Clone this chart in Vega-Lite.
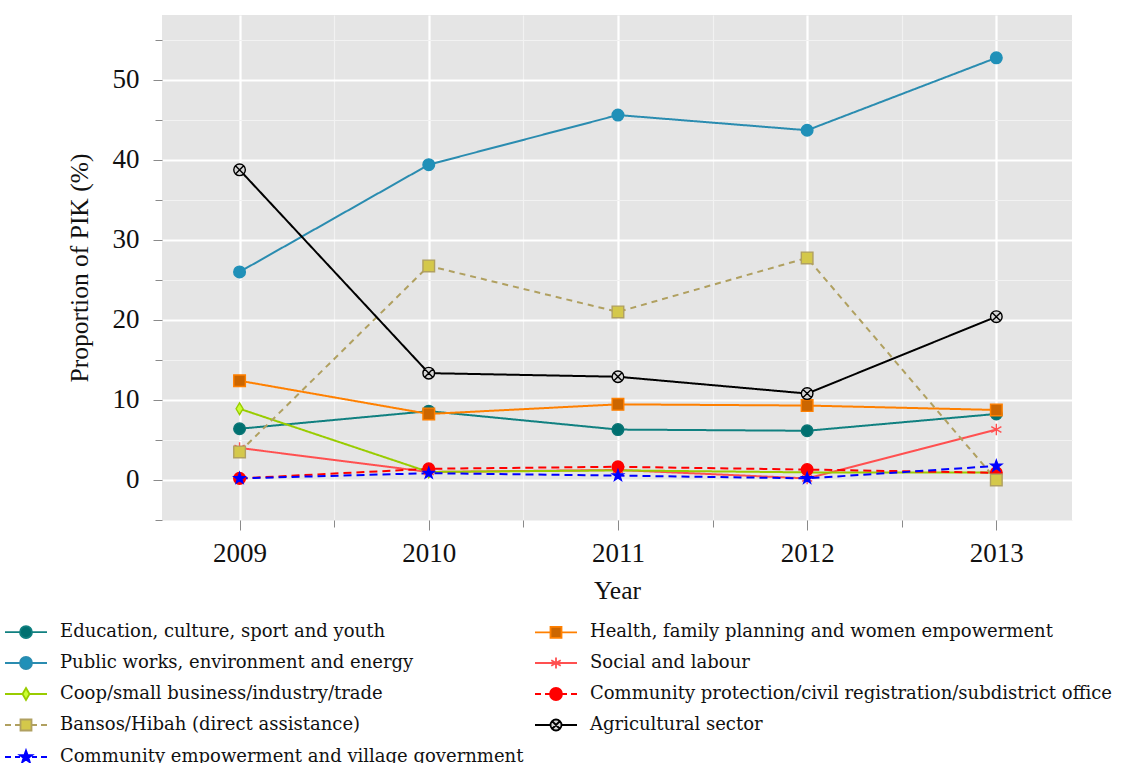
{
  "$schema": "https://vega.github.io/schema/vega-lite/v6.json",
  "width": 910,
  "height": 505,
  "autosize": {"type": "none"},
  "padding": {"left": 162, "top": 15, "right": 51, "bottom": 243},
  "background": "white",
  "config": {
    "view": {"fill": "#e5e5e5", "stroke": null},
    "font": "Liberation Serif",
    "legend": {
      "orient": "none",
      "legendX": -145,
      "legendY": 608,
      "columns": 2,
      "direction": "horizontal",
      "gridAlign": "each",
      "padding": 0,
      "columnPadding": 7,
      "rowPadding": 11,
      "symbolSize": 100,
      "symbolStrokeWidth": 1.8,
      "labelOffset": 25,
      "labelFont": "DejaVu Serif",
      "labelFontSize": 18,
      "labelColor": "#111111",
      "labelLimit": 0
    }
  },
  "data": {
    "values": [
      {"s": "Education, culture, sport and youth", "year": 2009, "v": 6.4},
      {"s": "Education, culture, sport and youth", "year": 2010, "v": 8.6},
      {"s": "Education, culture, sport and youth", "year": 2011, "v": 6.3},
      {"s": "Education, culture, sport and youth", "year": 2012, "v": 6.15},
      {"s": "Education, culture, sport and youth", "year": 2013, "v": 8.25},
      {"s": "Health, family planning and women empowerment", "year": 2009, "v": 12.4},
      {"s": "Health, family planning and women empowerment", "year": 2010, "v": 8.25},
      {"s": "Health, family planning and women empowerment", "year": 2011, "v": 9.45},
      {"s": "Health, family planning and women empowerment", "year": 2012, "v": 9.3},
      {"s": "Health, family planning and women empowerment", "year": 2013, "v": 8.75},
      {"s": "Public works, environment and energy", "year": 2009, "v": 26.0},
      {"s": "Public works, environment and energy", "year": 2010, "v": 39.4},
      {"s": "Public works, environment and energy", "year": 2011, "v": 45.6},
      {"s": "Public works, environment and energy", "year": 2012, "v": 43.7},
      {"s": "Public works, environment and energy", "year": 2013, "v": 52.75},
      {"s": "Social and labour", "year": 2009, "v": 4.0},
      {"s": "Social and labour", "year": 2010, "v": 1.0},
      {"s": "Social and labour", "year": 2011, "v": 1.25},
      {"s": "Social and labour", "year": 2012, "v": 0.2},
      {"s": "Social and labour", "year": 2013, "v": 6.3},
      {"s": "Coop/small business/industry/trade", "year": 2009, "v": 8.9},
      {"s": "Coop/small business/industry/trade", "year": 2010, "v": 1.0},
      {"s": "Coop/small business/industry/trade", "year": 2011, "v": 1.2},
      {"s": "Coop/small business/industry/trade", "year": 2012, "v": 0.95},
      {"s": "Coop/small business/industry/trade", "year": 2013, "v": 0.95},
      {"s": "Community protection/civil registration/subdistrict office", "year": 2009, "v": 0.2},
      {"s": "Community protection/civil registration/subdistrict office", "year": 2010, "v": 1.4},
      {"s": "Community protection/civil registration/subdistrict office", "year": 2011, "v": 1.65},
      {"s": "Community protection/civil registration/subdistrict office", "year": 2012, "v": 1.3},
      {"s": "Community protection/civil registration/subdistrict office", "year": 2013, "v": 0.9},
      {"s": "Bansos/Hibah (direct assistance)", "year": 2009, "v": 3.5},
      {"s": "Bansos/Hibah (direct assistance)", "year": 2010, "v": 26.75},
      {"s": "Bansos/Hibah (direct assistance)", "year": 2011, "v": 21.0},
      {"s": "Bansos/Hibah (direct assistance)", "year": 2012, "v": 27.75},
      {"s": "Bansos/Hibah (direct assistance)", "year": 2013, "v": 0.0},
      {"s": "Agricultural sector", "year": 2009, "v": 38.75},
      {"s": "Agricultural sector", "year": 2010, "v": 13.35},
      {"s": "Agricultural sector", "year": 2011, "v": 12.9},
      {"s": "Agricultural sector", "year": 2012, "v": 10.8},
      {"s": "Agricultural sector", "year": 2013, "v": 20.4},
      {"s": "Community empowerment and village government", "year": 2009, "v": 0.2},
      {"s": "Community empowerment and village government", "year": 2010, "v": 0.85},
      {"s": "Community empowerment and village government", "year": 2011, "v": 0.55},
      {"s": "Community empowerment and village government", "year": 2012, "v": 0.2},
      {"s": "Community empowerment and village government", "year": 2013, "v": 1.75}
    ]
  },
  "encoding": {
    "x": {
      "field": "year", "type": "quantitative",
      "scale": {"domain": [2008.59, 2013.4], "nice": false, "zero": false},
      "axis": {
        "title": "Year",
        "values": [2009, 2009.5, 2010, 2010.5, 2011, 2011.5, 2012, 2012.5, 2013],
        "labelExpr": "datum.value % 1 === 0 ? format(datum.value, 'd') : ''",
        "domain": false,
        "grid": true,
        "gridColor": {"condition": {"test": "datum.value % 1 === 0", "value": "#ffffff"}, "value": "#f2f2f2"},
        "gridWidth": {"condition": {"test": "datum.value % 1 === 0", "value": 2.2}, "value": 1.1},
        "tickColor": "#8a8a8a",
        "tickWidth": 1,
        "tickSize": {"condition": {"test": "datum.value % 1 === 0", "value": 10}, "value": 7},
        "labelFont": "Liberation Serif",
        "labelFontSize": 27,
        "labelColor": "#111111",
        "labelPadding": 10,
        "labelFlush": false,
        "labelOverlap": false,
        "titleFont": "Liberation Serif",
        "titleFontSize": 25.5,
        "titleFontWeight": "normal",
        "titleColor": "#111111",
        "titlePadding": 12
      }
    },
    "y": {
      "field": "v", "type": "quantitative",
      "scale": {"domain": [-5, 58.1], "nice": false, "zero": false},
      "axis": {
        "title": "Proportion of PIK (%)",
        "values": [-5, 0, 5, 10, 15, 20, 25, 30, 35, 40, 45, 50, 55],
        "labelExpr": "datum.value % 10 === 0 ? format(datum.value, 'd') : ''",
        "domain": false,
        "grid": true,
        "gridColor": {"condition": {"test": "datum.value % 10 === 0", "value": "#ffffff"}, "value": "#f2f2f2"},
        "gridWidth": {"condition": {"test": "datum.value % 10 === 0", "value": 2.2}, "value": 1.1},
        "tickColor": "#8a8a8a",
        "tickWidth": 1,
        "tickSize": {"condition": {"test": "datum.value % 10 === 0", "value": 9}, "value": 7},
        "labelFont": "Liberation Serif",
        "labelFontSize": 27,
        "labelColor": "#111111",
        "labelPadding": 14,
        "labelFlush": false,
        "labelOverlap": false,
        "titleFont": "Liberation Serif",
        "titleFontSize": 25.5,
        "titleFontWeight": "normal",
        "titleColor": "#111111",
        "titlePadding": 20
      }
    }
  },
  "resolve": {
    "scale": {"shape": "independent", "fill": "independent", "stroke": "independent"},
    "legend": {"shape": "independent", "fill": "independent", "stroke": "independent"}
  },
  "layer": [
    {
      "mark": {"type": "line", "strokeWidth": 2},
      "encoding": {
        "color": {
          "field": "s", "type": "nominal",
          "scale": {
            "domain": [
              "Education, culture, sport and youth",
              "Health, family planning and women empowerment",
              "Public works, environment and energy",
              "Social and labour",
              "Coop/small business/industry/trade",
              "Community protection/civil registration/subdistrict office",
              "Bansos/Hibah (direct assistance)",
              "Agricultural sector",
              "Community empowerment and village government"
            ],
            "range": ["#108080", "#ff8000", "#2a8cb0", "#ff5050", "#99cc00", "#ff0000", "#b0a060", "#000000", "#0000ff"]
          },
          "legend": null
        },
        "strokeDash": {
          "field": "s", "type": "nominal",
          "scale": {
            "domain": [
              "Education, culture, sport and youth",
              "Health, family planning and women empowerment",
              "Public works, environment and energy",
              "Social and labour",
              "Coop/small business/industry/trade",
              "Community protection/civil registration/subdistrict office",
              "Bansos/Hibah (direct assistance)",
              "Agricultural sector",
              "Community empowerment and village government"
            ],
            "range": [[1, 0], [1, 0], [1, 0], [1, 0], [1, 0], [8, 5], [6, 5], [1, 0], [8, 5]]
          },
          "legend": null
        }
      }
    },
    {
      "mark": {"type": "point", "filled": true, "opacity": 1, "size": 135, "strokeWidth": 1.4},
      "encoding": {
        "shape": {
          "field": "s", "type": "nominal",
          "scale": {
            "domain": [
              "Education, culture, sport and youth",
              "Health, family planning and women empowerment",
              "Public works, environment and energy",
              "Social and labour",
              "Coop/small business/industry/trade",
              "Community protection/civil registration/subdistrict office",
              "Bansos/Hibah (direct assistance)",
              "Agricultural sector",
              "Community empowerment and village government"
            ],
            "range": [
              "circle",
              "square",
              "circle",
              "M0,-1L0,1M-0.87,-0.5L0.87,0.5M-0.87,0.5L0.87,-0.5",
              "M0,-1L0.6,0L0,1L-0.6,0Z",
              "circle",
              "square",
              "M1,0A1,1,0,1,1,-1,0A1,1,0,1,1,1,0ZM-0.7,-0.7L0.7,0.7M-0.7,0.7L0.7,-0.7",
              "M0,-1L0.235,-0.324L0.951,-0.309L0.38,0.124L0.588,0.809L0,0.4L-0.588,0.809L-0.38,0.124L-0.951,-0.309L-0.235,-0.324Z"
            ]
          },
          "legend": null
        },
        "fill": {
          "field": "s", "type": "nominal",
          "scale": {
            "domain": [
              "Education, culture, sport and youth",
              "Health, family planning and women empowerment",
              "Public works, environment and energy",
              "Social and labour",
              "Coop/small business/industry/trade",
              "Community protection/civil registration/subdistrict office",
              "Bansos/Hibah (direct assistance)",
              "Agricultural sector",
              "Community empowerment and village government"
            ],
            "range": ["#007070", "#cc6600", "#2090b8", "transparent", "#ccff33", "#ff0000", "#d4c84a", "#d8d8d8", "#0000ff"]
          },
          "legend": null
        },
        "stroke": {
          "field": "s", "type": "nominal",
          "scale": {
            "domain": [
              "Education, culture, sport and youth",
              "Health, family planning and women empowerment",
              "Public works, environment and energy",
              "Social and labour",
              "Coop/small business/industry/trade",
              "Community protection/civil registration/subdistrict office",
              "Bansos/Hibah (direct assistance)",
              "Agricultural sector",
              "Community empowerment and village government"
            ],
            "range": ["#0a7575", "#ff8000", "#2090b8", "#ff5050", "#99cc00", "#ff0000", "#b0a060", "#000000", "#0000ff"]
          },
          "legend": null
        }
      }
    },
    {
      "mark": {"type": "point", "filled": true, "opacity": 1, "size": 0, "strokeWidth": 1.8},
      "encoding": {
        "shape": {
          "field": "s", "type": "nominal",
          "scale": {
            "domain": [
              "Education, culture, sport and youth",
              "Health, family planning and women empowerment",
              "Public works, environment and energy",
              "Social and labour",
              "Coop/small business/industry/trade",
              "Community protection/civil registration/subdistrict office",
              "Bansos/Hibah (direct assistance)",
              "Agricultural sector",
              "Community empowerment and village government"
            ],
            "range": [
              "M-4.2,0L-1.2,0M1.2,0L4.2,0M1.2,0A1.2,1.2,0,1,1,-1.2,0A1.2,1.2,0,1,1,1.2,0Z",
              "M-4.2,0L-1.1,0M1.1,0L4.2,0M-1.1,-1.1L1.1,-1.1L1.1,1.1L-1.1,1.1Z",
              "M-4.2,0L-1.2,0M1.2,0L4.2,0M1.2,0A1.2,1.2,0,1,1,-1.2,0A1.2,1.2,0,1,1,1.2,0Z",
              "M-4.2,0L4.2,0M0,-1.1L0,1.1M-0.95,-0.55L0.95,0.55M-0.95,0.55L0.95,-0.55",
              "M-4.2,0L-0.7,0M0.7,0L4.2,0M0,-1.2L0.7,0L0,1.2L-0.7,0Z",
              "M-4.2,0L-3,0M-2.2,0L-1.2,0M1.2,0L2.2,0M3,0L4.2,0M1.2,0A1.2,1.2,0,1,1,-1.2,0A1.2,1.2,0,1,1,1.2,0Z",
              "M-4.2,0L-3,0M-2.2,0L-1.1,0M1.1,0L2.2,0M3,0L4.2,0M-1.1,-1.1L1.1,-1.1L1.1,1.1L-1.1,1.1Z",
              "M-4.2,0L-1.1,0M1.1,0L4.2,0M1.1,0A1.1,1.1,0,1,1,-1.1,0A1.1,1.1,0,1,1,1.1,0ZM-0.75,-0.75L0.75,0.75M-0.75,0.75L0.75,-0.75",
              "M-4.2,0L-3,0M-2.2,0L-1.2,0M1.2,0L2.2,0M3,0L4.2,0M0,-1.3L0.306,-0.421L1.236,-0.402L0.494,0.161L0.764,1.052L0,0.52L-0.764,1.052L-0.494,0.161L-1.236,-0.402L-0.306,-0.421Z"
            ]
          },
          "legend": {"title": null}
        },
        "fill": {
          "field": "s", "type": "nominal",
          "scale": {
            "domain": [
              "Education, culture, sport and youth",
              "Health, family planning and women empowerment",
              "Public works, environment and energy",
              "Social and labour",
              "Coop/small business/industry/trade",
              "Community protection/civil registration/subdistrict office",
              "Bansos/Hibah (direct assistance)",
              "Agricultural sector",
              "Community empowerment and village government"
            ],
            "range": ["#007070", "#cc6600", "#2090b8", "transparent", "#ccff33", "#ff0000", "#d4c84a", "#d8d8d8", "#0000ff"]
          },
          "legend": {"title": null}
        },
        "stroke": {
          "field": "s", "type": "nominal",
          "scale": {
            "domain": [
              "Education, culture, sport and youth",
              "Health, family planning and women empowerment",
              "Public works, environment and energy",
              "Social and labour",
              "Coop/small business/industry/trade",
              "Community protection/civil registration/subdistrict office",
              "Bansos/Hibah (direct assistance)",
              "Agricultural sector",
              "Community empowerment and village government"
            ],
            "range": ["#108080", "#ff8000", "#2a8cb0", "#ff5050", "#99cc00", "#ff0000", "#b0a060", "#000000", "#0000ff"]
          },
          "legend": {"title": null}
        }
      }
    }
  ]
}
